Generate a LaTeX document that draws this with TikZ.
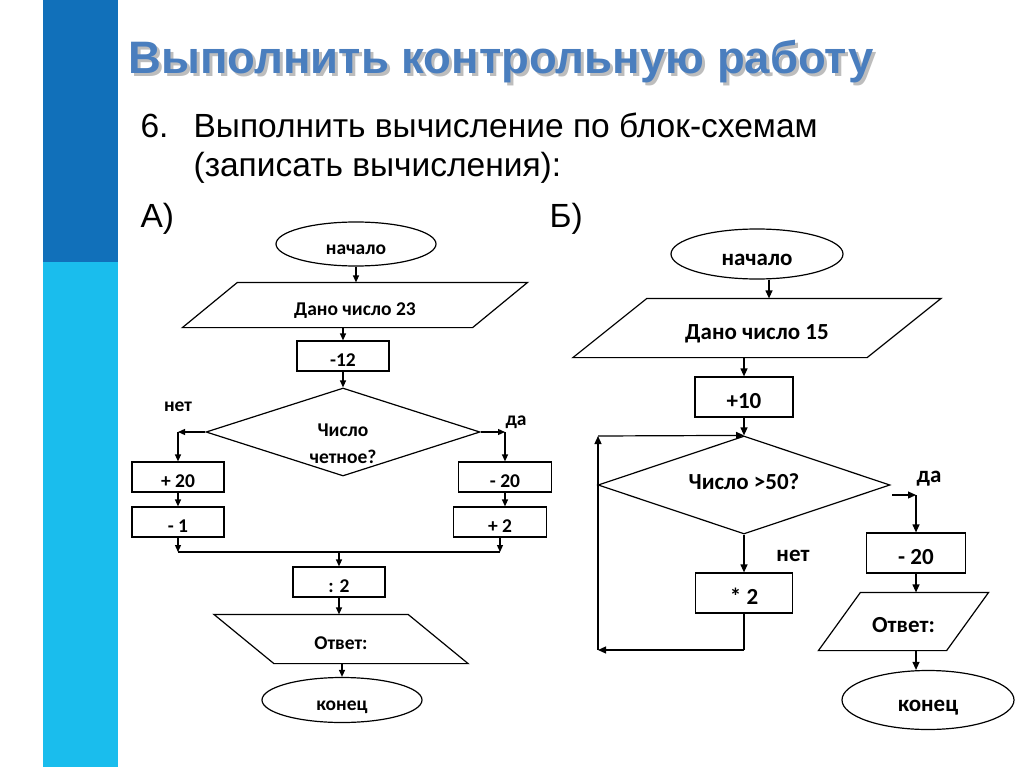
\documentclass[tikz,border=0pt]{standalone}
\usepackage{fontspec}
\setmainfont{Liberation Sans}
\newfontfamily\chartfont{Carlito}
\usetikzlibrary{shapes.geometric,arrows.meta,calc}
\definecolor{stripeDark}{HTML}{1170BA}
\definecolor{stripeLight}{HTML}{1ABDED}
\definecolor{titleBlue}{HTML}{4A7EBE}
\definecolor{shadowGray}{HTML}{BDBDBD}
\newcommand\paraoutline[2]{%
  \draw ([xshift={(#2)/2}]#1.north west) -- ([xshift={(#2)/2}]#1.north east)
   -- ([xshift={-(#2)/2}]#1.south east) -- ([xshift={-(#2)/2}]#1.south west) -- cycle;}
\newcommand\shadowtext[1]{\makebox[0pt][l]{\hspace*{3pt}\raisebox{-3pt}{\textcolor{shadowGray}{#1}}}#1}
\begin{document}
\begin{tikzpicture}[x=1pt,y=-1pt,line width=1.2pt,
  fa/.style={font=\chartfont\bfseries\fontsize{19.5}{27}\selectfont},
  fb/.style={font=\chartfont\bfseries\fontsize{23}{28}\selectfont},
  ta/.style={text height=21.6pt,text depth=0pt},
  tb/.style={text height=22.8pt,text depth=0pt},
  boxA/.style={draw,rectangle,minimum width=92pt,minimum height=30pt,inner sep=0pt,fa,ta},
  boxB/.style={draw,rectangle,minimum width=98pt,minimum height=40pt,inner sep=0pt,fb,tb},
  paraA/.style={rectangle,inner sep=0pt,fa,ta},
  paraB/.style={rectangle,inner sep=0pt,fb,tb},
  termA/.style={draw,ellipse,minimum width=160pt,minimum height=44pt,inner sep=0pt,fa,ta},
  termB/.style={draw,ellipse,minimum width=172pt,inner sep=0pt,fb,tb},
  decis/.style={draw,diamond,inner sep=0pt},
  arA/.style={-{Triangle[length=7pt,width=6pt]}},
  arB/.style={-{Triangle[length=8pt,width=7pt]}},
  slide/.style={font=\fontsize{33.5}{40}\selectfont,anchor=base west,inner sep=0pt}]
\useasboundingbox (0,0) rectangle (1024,767);
\fill[white] (0,0) rectangle (1024,767);
\fill[stripeDark] (43,0) rectangle (118,262);
\fill[stripeLight] (43,262) rectangle (118,767);

% title
\node[anchor=base west,inner sep=0pt,font=\bfseries\fontsize{45.5}{54}\selectfont,text=titleBlue] (title) at (128,74) {\shadowtext{Выполнить контрольную работу}};
\node[slide] (num) at (140,138) {6.};
\node[slide] (line1) at (193,138) {Выполнить вычисление по блок-схемам};
\node[slide] (line2) at (193,177) {(записать вычисления):};
\node[slide] (labA) at (140,228) {А)};
\node[slide] (labB) at (549,228) {Б)};

% ---------- chart A ----------
\node[termA] (startA) at (356,244) {начало};
\node[paraA,minimum width=289pt,minimum height=44pt] (inA) at (355,305) {Дано число 23};
\paraoutline{inA}{55}
\node[boxA] (m12) at (343,356) {-12};
\node[decis,minimum width=274pt,minimum height=88pt] (decA) at (343,432) {};
\node[fa,align=center,inner sep=0pt] (decAt) at (343,444) {Число\\четное?};
\node[fa,inner sep=0pt] (noA) at (178,407) {нет};
\node[fa,inner sep=0pt] (yesA) at (516,422) {да};
\coordinate (nA) at (178,432);
\coordinate (dA) at (505,432);
\node[boxA] (p20) at (178,477) {+ 20};
\node[boxA] (m1) at (178,522) {- 1};
\node[boxA,minimum width=93pt] (m20) at (505,477) {- 20};
\node[boxA,minimum width=93pt] (p2) at (500,522) {+ 2};
\coordinate (mergeL) at (178,552);
\coordinate (mergeR) at (500,552);
\node[boxA] (d2) at (339,582) {: 2};
\node[paraA,minimum width=193pt,minimum height=48pt] (outA) at (341,639) {Ответ:};
\paraoutline{outA}{-60}
\node[termA,minimum height=45pt] (endA) at (342,700) {конец};

\draw[arA] (startA.south) -- (startA.south |- inA.north);
\draw[arA] (m12.north |- inA.south) -- (m12.north);
\draw[arA] (m12.south) -- (decA.north);
\draw[arA] (decA.west) -- (nA);
\draw[arA] (nA) -- (p20.north);
\draw[arA] (p20.south) -- (m1.north);
\draw[arA] (m1.south) -- (mergeL);
\draw[arA] (decA.east) -- (dA);
\draw[arA] (dA) -- (m20.north);
\draw[arA] (m20.south) -- (m20.south |- p2.north);
\draw[arA] (p2.south) -- (mergeR);
\draw (mergeL) -- (mergeR);
\draw[arA] (d2.north |- mergeL) -- (d2.north);
\draw[arA] (d2.south) -- (d2.south |- outA.north);
\draw[arA] (endA.north |- outA.south) -- (endA.north);

% ---------- chart B ----------
\node[termB,minimum height=50pt] (startB) at (757,254) {начало};
\node[paraB,minimum width=293pt,minimum height=58pt] (inB) at (757,328) {Дано число 15};
\paraoutline{inB}{74}
\node[boxB] (p10) at (744,397) {+10};
\node[decis,minimum width=292pt,minimum height=98pt] (decB) at (744,485) {};
\node[fb,inner sep=0pt] (decBt) at (744,482) {Число >50?};
\node[boxB,minimum width=97pt] (m2) at (744,593) {* 2};
\node[fb,inner sep=0pt] (noB) at (793,556) {нет};
\node[fb,inner sep=0pt] (yesB) at (929,479) {да};
\coordinate (loopBR) at (744,650);
\coordinate (loopBL) at (598,650);
\coordinate (loopTL) at (598,436);
\coordinate (yesB0) at (892,495);
\coordinate (yesB1) at (916,495);
\node[boxB,minimum width=99pt] (m20B) at (916,553) {- 20};
\node[paraB,minimum width=127pt,minimum height=57pt] (outB) at (903.5,621.5) {Ответ:};
\paraoutline{outB}{42}
\node[termB,minimum height=59pt] (endB) at (928,700) {конец};

\draw[arB] ([xshift=12pt]startB.south) -- ([xshift=12pt]startB.south |- inB.north);
\draw[arB] (p10.north |- inB.south) -- (p10.north);
\draw[arB] (p10.south) -- (decB.north);
\draw[arB] (decB.south) -- (m2.north);
\draw (m2.south) -- (loopBR);
\draw[arB] (loopBR) -- (loopBL);
\draw[arB] (loopBL) -- (loopTL);
\draw[arB] (loopTL) -- (decB.north);
\draw[arB] (yesB0) -- (yesB1);
\draw[arB] (yesB1) -- (m20B.north);
\draw[arB] (m20B.south) -- (m20B.south |- outB.north);
\draw[arB] (m20B.south |- outB.south) -- (m20B.south |- endB.north);
\end{tikzpicture}
\end{document}
